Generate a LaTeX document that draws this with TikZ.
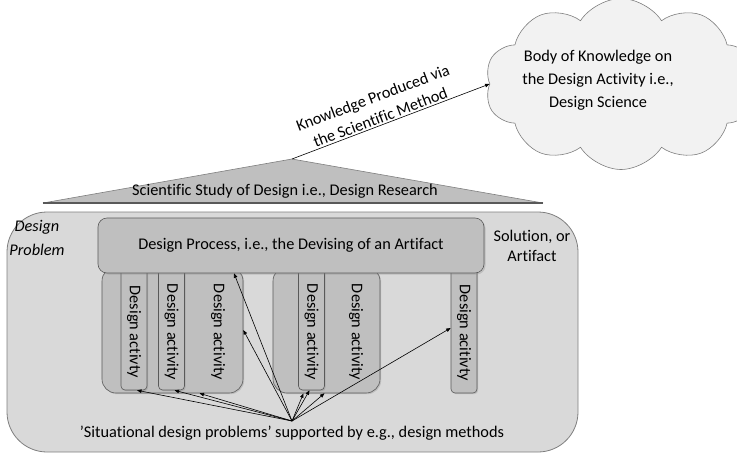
\documentclass[tikz,border=0pt]{standalone}
\usepackage{fontspec}
\setmainfont[Ligatures=NoCommon]{Carlito}
\usetikzlibrary{arrows.meta,shapes.symbols,shadows,calc}
\definecolor{framefill}{HTML}{D9D9D9}
\definecolor{framedraw}{HTML}{7F7F7F}
\definecolor{boxfill}{HTML}{BFBFBF}
\definecolor{boxdraw}{HTML}{595959}
\definecolor{cloudfill}{HTML}{F2F2F2}
\tikzset{
  framebox/.style={draw=framedraw, fill=framefill, rounded corners=40pt, line width=0.8pt, inner sep=0pt},
  groupbox/.style={draw=boxdraw, fill=boxfill, rounded corners=14pt, line width=0.6pt, inner sep=0pt,
    drop shadow={shadow xshift=1.2pt, shadow yshift=-1.2pt, opacity=0.3}},
  slimbox/.style={draw=boxdraw, fill=boxfill, rounded corners=4pt, line width=0.6pt, inner sep=0pt,
    minimum width=26pt, drop shadow={shadow xshift=1.2pt, shadow yshift=-1.2pt, opacity=0.3}},
  procbox/.style={draw=boxdraw, fill=boxfill, rounded corners=9pt, line width=0.6pt, inner sep=0pt,
    drop shadow={shadow xshift=1.5pt, shadow yshift=-1.5pt, opacity=0.3}},
  vlabel/.style={rotate=-90, inner sep=0pt},
  link/.style={-{Triangle[length=4.5pt,width=3.5pt]}, line width=0.6pt, black},
}
\begin{document}
\begin{tikzpicture}[x=1pt,y=-1pt, font=\fontsize{16.3}{20}\selectfont]
\useasboundingbox (0,0) rectangle (737,453);

% outer frame holding the design problem
\node[framebox, minimum width=571pt, minimum height=240pt] (frame) at (292.5,332) {};

% roof of design research
\coordinate (apex) at (292,159);
\coordinate (roofL) at (43,203);
\coordinate (roofR) at (543,203);
\fill[boxfill] (roofL) -- (apex) -- (roofR) -- cycle;
\draw[framedraw, line width=0.6pt] (roofL) -- (apex) -- (roofR);
\draw[boxdraw, line width=1.3pt] (roofL) -- (roofR);
\node (roof) at (285,191) {Scientific Study of Design i.e., Design Research};

% cloud of design science
\node[cloud, cloud puffs=10, cloud puff arc=115, aspect=1.6, draw=framedraw, fill=cloudfill,
      minimum width=272pt, minimum height=171pt, line width=0.6pt] (science) at (621,84) {};
\node[align=center, font=\fontsize{16.3}{23}\selectfont] (sciencetext) at (598,80)
  {Body of Knowledge on\\the Design Activity i.e.,\\Design Science};

\draw[link] (apex) -- node[sloped, above, pos=0.46, align=center, inner sep=1.5pt,
      font=\fontsize{16.3}{21}\selectfont] (method)
  {Knowledge Produced via\\the Scientific Method} (science.west);

% side labels
\node[align=center, font=\fontsize{16.3}{24}\selectfont\itshape] (problem) at (37,238) {Design\\Problem};
\node[align=center, font=\fontsize{16.3}{20}\selectfont] (solution) at (532,246) {Solution, or\\Artifact};

% groups of activities
\node[groupbox, minimum width=141pt, minimum height=126pt] (grp1) at (172.5,330) {};
\node[groupbox, minimum width=107pt, minimum height=126pt] (grp2) at (326.5,330) {};

% slim activity boxes
\node[slimbox, minimum height=126pt] (actA) at (134,327) {};
\node[slimbox, minimum height=126pt] (actB) at (171.5,327) {};
\node[slimbox, minimum height=126pt] (actC) at (311.5,327) {};
\node[slimbox, minimum height=130pt] (actD) at (464,328) {};

% design process bar
\node[procbox, minimum width=386pt, minimum height=55pt] (proc) at (291,245.5)
  {Design Process, i.e., the Devising of an Artifact};

% activity labels
\node[vlabel] (labA) at (134,332) {Design activty};
\node[vlabel] (labB) at (171.5,332) {Design activity};
\node[vlabel] (labE) at (218,332) {Design activity};
\node[vlabel] (labC) at (311.5,332) {Design activity};
\node[vlabel] (labF) at (356,332) {Design activity};
\node[vlabel] (labD) at (464,333) {Design acitivty};

% situational problems and their links
\node (situ) at (292,433) {'Situational design problems' supported by e.g., design methods};
\coordinate (src) at (292,421);
\draw[link] (src) -- ([xshift=3pt]actA.south);
\draw[link] (src) -- ([xshift=3pt]actB.south);
\draw[link] (src) -- ($(grp1.south)+(27,0)$);
\draw[link] (src) -- (grp1.east);
\draw[link] (src) -- ($(proc.south)+(-57,0)$);
\draw[link] (src) -- ($(grp2.south)+(-23,0)$);
\draw[link] (src) -- ([xshift=-2pt]actC.south);
\draw[link] (src) -- ($(grp2.south)+(-2,0)$);
\draw[link] (src) -- (actD.west);
\end{tikzpicture}
\end{document}
